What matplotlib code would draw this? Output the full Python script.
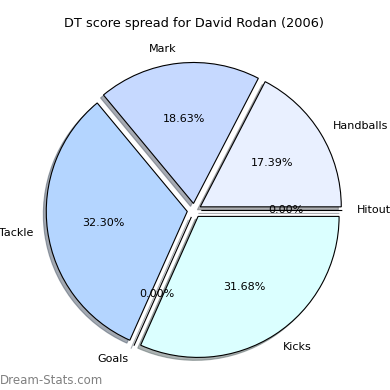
import matplotlib
matplotlib.use("Agg")
import matplotlib.pyplot as plt

labels = ["Handballs", "Mark", "Tackle", "Goals", "Kicks", "Hitout"]
points = [28, 30, 52, 0, 51, 0]
colors = ["#e9f0ff", "#c6d9ff", "#b4d5ff", "#cce6ff", "#dbffff", "#e0e8ff"]
explode = [0.05] * 6

plt.rcParams["font.size"] = 8

fig = plt.figure(figsize=(3.9, 3.9), dpi=100)
ax = fig.add_axes([18.0 / 390, 3.25 / 390, 352.5 / 390, 352.5 / 390])
ax.pie(points, labels=labels, colors=colors, explode=explode,
       autopct="%1.2f%%", startangle=0,
       shadow={"ox": -0.015, "oy": -0.015, "shade": 0.6},
       wedgeprops={"edgecolor": "black", "linewidth": 0.8})
ax.set_xlim(-1.25, 1.25)
ax.set_ylim(-1.25, 1.25)
ax.set_aspect("equal")
ax.set_title("DT score spread for David Rodan (2006)", fontsize=9.25, pad=5)

fig.text(0.0, 0.008, "Dream-Stats.com", color="#808080", fontsize=8.5,
         fontweight="medium", ha="left", va="bottom")

fig.savefig("out.png", dpi=100)
